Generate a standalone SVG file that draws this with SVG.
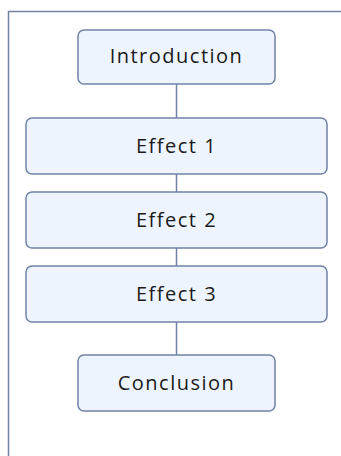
<svg xmlns="http://www.w3.org/2000/svg" width="341" height="456" viewBox="0 0 341 456">
<style>
.box{fill:#edf4fd;stroke:#7083a6;stroke-width:1.5}
.lbl{font-family:"Open Sans","Liberation Sans",sans-serif;font-size:20px;fill:#1a1a1a;text-anchor:middle;letter-spacing:1.5px}
.ln{stroke:#7083a6;stroke-width:1.5;fill:none}
</style>
<rect width="341" height="456" fill="#ffffff"/>
<path class="ln" d="M8.5,456 V11.5 H341"/>
<g id="connectors">
<line class="ln" x1="176.5" y1="84" x2="176.5" y2="118"/>
<line class="ln" x1="176.5" y1="174" x2="176.5" y2="192"/>
<line class="ln" x1="176.5" y1="248" x2="176.5" y2="266"/>
<line class="ln" x1="176.5" y1="322" x2="176.5" y2="355"/>
</g>
<g id="introduction">
<rect class="box" x="78" y="30" width="197" height="54" rx="6"/>
<text class="lbl" x="176.5" y="63">Introduction</text>
</g>
<g id="effect1">
<rect class="box" x="26" y="118" width="301" height="56" rx="6"/>
<text class="lbl" x="176.5" y="153">Effect 1</text>
</g>
<g id="effect2">
<rect class="box" x="26" y="192" width="301" height="56" rx="6"/>
<text class="lbl" x="176.5" y="227">Effect 2</text>
</g>
<g id="effect3">
<rect class="box" x="26" y="266" width="301" height="56" rx="6"/>
<text class="lbl" x="176.5" y="301">Effect 3</text>
</g>
<g id="conclusion">
<rect class="box" x="78" y="355" width="197" height="56" rx="6"/>
<text class="lbl" x="176.5" y="390">Conclusion</text>
</g>
</svg>
